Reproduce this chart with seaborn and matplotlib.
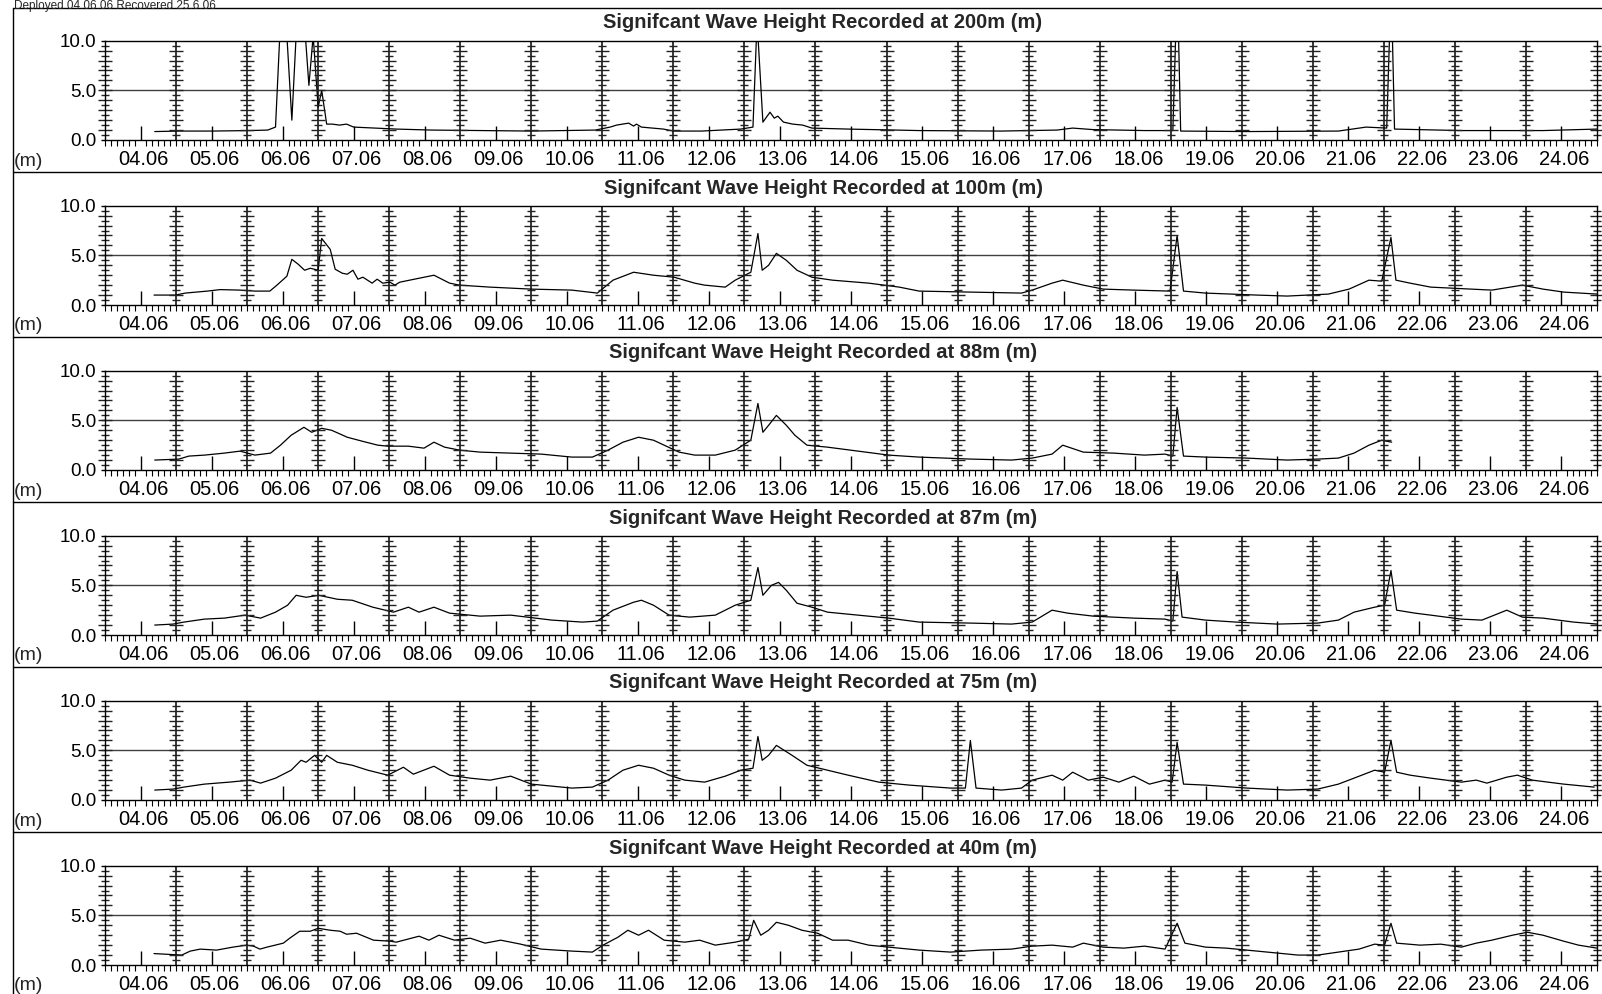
import numpy as np
import pandas as pd
import matplotlib
matplotlib.use("Agg")
import matplotlib.pyplot as plt
from matplotlib.lines import Line2D
from matplotlib.ticker import MultipleLocator, FixedLocator
from matplotlib.transforms import ScaledTranslation
import seaborn as sns

# ---------------- data (time in days since 04.06 00:00, Hs in m) ----------------
depths = ["200m", "100m", "88m", "87m", "75m", "40m"]
day_labels = ["04.06", "05.06", "06.06", "07.06", "08.06", "09.06", "10.06",
              "11.06", "12.06", "13.06", "14.06", "15.06", "16.06", "17.06",
              "18.06", "19.06", "20.06", "21.06", "22.06", "23.06", "24.06"]
y_labels = ["0.0", "5.0", "10.0"]
header = "Deployed 04.06.06 Recovered 25.6.06"

t_200 = [0.70, 1.04, 1.50, 2.04, 2.29, 2.40, 2.46, 2.56, 2.63, 2.69, 2.82, 2.87, 2.93, 3.00,
         3.05, 3.12, 3.20, 3.30, 3.40, 3.50, 3.80, 4.10, 4.60, 5.30, 6.00, 6.90, 7.11, 7.20,
         7.37, 7.44, 7.48, 7.55, 7.86, 8.00, 8.40, 8.95, 9.12, 9.17, 9.19, 9.26, 9.36, 9.42,
         9.47, 9.55, 9.68, 9.82, 9.95, 10.46, 11.46, 12.62, 13.40, 13.62, 13.90, 14.63, 15.03,
         15.07, 15.11, 15.14, 16.07, 17.36, 17.75, 18.04, 18.08, 18.12, 18.15, 19.09, 20.24,
         21.00]
hs_200 = [0.85, 0.9, 0.9, 0.95, 1.0, 1.3, 10.5, 10.5, 2.0, 10.5, 10.5, 5.5, 10.5, 3.3,
          5.0, 1.6, 1.6, 1.5, 1.6, 1.3, 1.2, 1.1, 1.0, 0.95, 0.9, 1.0, 1.3, 1.5,
          1.7, 1.4, 1.6, 1.3, 1.1, 0.9, 0.9, 1.1, 1.3, 10.5, 10.5, 1.8, 2.8, 2.2,
          2.4, 1.8, 1.6, 1.5, 1.2, 1.1, 0.95, 0.9, 1.0, 1.2, 1.05, 0.95, 0.95,
          10.5, 10.5, 0.9, 0.85, 0.9, 1.3, 1.2, 10.5, 10.5, 1.1, 0.95, 0.95,
          1.1]

t_100 = [0.69, 0.99, 1.13, 1.44, 1.62, 1.90, 2.11, 2.32, 2.42, 2.56, 2.63, 2.72, 2.81, 2.89,
         3.00, 3.05, 3.17, 3.24, 3.34, 3.41, 3.49, 3.56, 3.63, 3.76, 3.83, 3.91, 4.01, 4.08,
         4.15, 4.63, 4.85, 4.99, 5.42, 6.00, 6.57, 6.93, 7.15, 7.44, 7.72, 8.01, 8.30, 8.44,
         8.73, 8.87, 9.09, 9.19, 9.25, 9.34, 9.45, 9.59, 9.74, 9.95, 10.24, 10.75, 11.18,
         11.46, 12.18, 12.90, 13.05, 13.33, 13.48, 13.77, 14.05, 14.48, 14.99, 15.09, 15.18,
         15.49, 16.21, 16.64, 17.22, 17.51, 17.79, 17.97, 18.10, 18.17, 18.37, 18.66, 19.23,
         19.52, 19.95, 20.24, 20.53, 21.00]
hs_100 = [1.0, 1.0, 1.2, 1.4, 1.55, 1.5, 1.4, 1.4, 2.0, 2.9, 4.6, 4.1, 3.5, 3.7,
          3.5, 6.7, 5.6, 3.6, 3.2, 3.1, 3.5, 2.6, 2.8, 2.2, 2.6, 2.2, 2.3, 2.0,
          2.3, 3.0, 2.2, 2.0, 1.8, 1.6, 1.5, 1.2, 2.5, 3.3, 3.0, 2.8, 2.2, 2.0,
          1.8, 2.5, 3.3, 7.2, 3.5, 4.0, 5.2, 4.5, 3.5, 2.8, 2.5, 2.2, 1.8,
          1.4, 1.3, 1.2, 1.5, 2.2, 2.5, 2.0, 1.6, 1.5, 1.4, 7.0, 1.4,
          1.2, 1.0, 0.9, 1.1, 1.6, 2.5, 2.4, 6.8, 2.5, 2.2, 1.8, 1.6,
          1.5, 2.0, 1.6, 1.3, 1.1]

t_88 = [0.70, 1.04, 1.18, 1.40, 1.68, 1.90, 2.11, 2.33, 2.47, 2.62, 2.80, 2.91, 3.05, 3.19,
        3.41, 3.62, 3.84, 3.98, 4.27, 4.49, 4.63, 4.78, 4.99, 5.28, 5.71, 6.14, 6.57, 6.86,
        7.08, 7.29, 7.51, 7.72, 7.87, 8.08, 8.30, 8.59, 8.87, 9.09, 9.19, 9.26, 9.34, 9.45,
        9.59, 9.71, 9.88, 10.17, 10.60, 11.03, 11.46, 12.18, 12.76, 13.05, 13.33, 13.48,
        13.77, 14.20, 14.63, 14.92, 15.03, 15.09, 15.18, 15.49, 16.07, 16.64, 17.07, 17.36,
        17.58, 17.79, 17.97, 18.11]
hs_88 = [1.0, 1.1, 1.4, 1.5, 1.7, 1.9, 1.5, 1.7, 2.5, 3.5, 4.3, 3.8, 4.2, 4.0,
         3.3, 2.9, 2.5, 2.4, 2.4, 2.2, 2.8, 2.3, 2.0, 1.8, 1.7, 1.6, 1.3, 1.3,
         2.0, 2.8, 3.3, 3.0, 2.5, 1.8, 1.5, 1.5, 2.0, 3.0, 6.7, 3.8, 4.5, 5.5,
         4.5, 3.5, 2.5, 2.3, 1.9, 1.5, 1.3, 1.1, 1.0, 1.2, 1.6, 2.5,
         1.8, 1.7, 1.5, 1.6, 1.4, 6.3, 1.4, 1.3, 1.2, 1.0, 1.1, 1.2,
         1.7, 2.5, 3.0, 2.8]

t_87 = [0.70, 0.96, 1.11, 1.40, 1.68, 1.97, 2.19, 2.40, 2.57, 2.69, 2.83, 3.01, 3.27, 3.48,
        3.77, 4.06, 4.27, 4.42, 4.63, 4.85, 5.28, 5.71, 6.29, 6.72, 6.93, 7.15, 7.44, 7.55,
        7.72, 7.94, 8.23, 8.59, 8.87, 9.09, 9.19, 9.26, 9.38, 9.48, 9.59, 9.74, 9.95, 10.17,
        10.60, 11.03, 11.46, 12.18, 12.76, 13.05, 13.33, 13.55, 13.91, 14.48, 14.92, 15.03,
        15.09, 15.16, 15.49, 15.92, 16.50, 17.07, 17.36, 17.58, 17.87, 18.01, 18.10, 18.18,
        18.44, 18.66, 19.09, 19.38, 19.73, 19.95, 20.24, 20.67, 21.00]
hs_87 = [1.0, 1.1, 1.3, 1.6, 1.7, 2.0, 1.7, 2.3, 3.0, 4.0, 3.8, 4.0, 3.6, 3.5,
         2.8, 2.3, 2.8, 2.3, 2.8, 2.2, 1.9, 2.0, 1.5, 1.3, 1.4, 2.5, 3.3, 3.5,
         3.0, 2.0, 1.8, 2.0, 3.0, 3.5, 6.8, 4.0, 5.0, 5.3, 4.5, 3.2, 2.8, 2.3,
         2.0, 1.7, 1.3, 1.2, 1.1, 1.3, 2.5, 2.2, 1.9, 1.7, 1.6, 1.4,
         6.4, 1.8, 1.5, 1.3, 1.1, 1.2, 1.5, 2.3, 2.8, 3.0, 6.5, 2.5,
         2.2, 2.0, 1.6, 1.5, 2.5, 1.8, 1.7, 1.3, 1.1]

t_75 = [0.70, 0.96, 1.11, 1.40, 1.75, 2.04, 2.19, 2.40, 2.62, 2.76, 2.83, 2.95, 3.05, 3.12,
        3.27, 3.48, 3.70, 3.98, 4.20, 4.34, 4.63, 4.85, 5.14, 5.42, 5.71, 6.00, 6.57, 6.86,
        7.08, 7.29, 7.51, 7.72, 7.94, 8.16, 8.44, 8.73, 8.95, 9.12, 9.19, 9.25, 9.34, 9.45,
        9.67, 9.88, 10.17, 10.46, 10.89, 11.32, 11.90, 12.11, 12.18, 12.26, 12.62, 12.90,
        13.05, 13.33, 13.48, 13.62, 13.84, 14.05, 14.27, 14.48, 14.70, 14.92, 15.02, 15.09,
        15.18, 15.49, 16.07, 16.64, 17.07, 17.36, 17.58, 17.87, 18.01, 18.10, 18.18, 18.37,
        18.66, 19.09, 19.30, 19.45, 19.73, 19.88, 20.09, 20.53, 20.96]
hs_75 = [1.0, 1.1, 1.3, 1.6, 1.8, 2.0, 1.7, 2.2, 3.0, 4.0, 3.8, 4.5, 3.8, 4.5,
         3.8, 3.5, 3.0, 2.5, 3.3, 2.6, 3.4, 2.5, 2.2, 2.0, 2.4, 1.6, 1.2, 1.3,
         2.0, 3.0, 3.5, 3.2, 2.5, 2.0, 1.8, 2.4, 3.0, 3.2, 6.4, 4.0, 4.5, 5.5,
         4.5, 3.5, 3.0, 2.5, 1.8, 1.5, 1.2, 1.2, 6.0, 1.2, 1.0, 1.2,
         2.0, 2.5, 2.0, 2.8, 2.0, 2.3, 1.8, 2.4, 1.6, 2.0, 1.8, 5.8,
         1.6, 1.5, 1.2, 1.0, 1.1, 1.6, 2.2, 3.0, 2.8, 6.0, 2.8, 2.5,
         2.2, 1.8, 2.0, 1.7, 2.3, 2.5, 2.0, 1.6, 1.3]

t_40 = [0.69, 1.08, 1.20, 1.34, 1.57, 1.80, 1.99, 2.09, 2.18, 2.28, 2.51, 2.60, 2.74, 2.89,
        3.00, 3.17, 3.31, 3.40, 3.54, 3.78, 4.01, 4.10, 4.42, 4.56, 4.70, 4.92, 5.14, 5.35,
        5.57, 5.85, 6.14, 6.57, 6.86, 7.01, 7.22, 7.36, 7.51, 7.65, 7.87, 8.16, 8.37, 8.59,
        8.87, 9.06, 9.13, 9.23, 9.34, 9.45, 9.62, 9.81, 10.03, 10.24, 10.46, 10.75, 11.03,
        11.46, 11.90, 12.33, 12.76, 13.05, 13.33, 13.62, 13.77, 14.05, 14.34, 14.63, 14.92,
        15.09, 15.20, 15.49, 15.78, 16.36, 16.79, 17.07, 17.36, 17.65, 17.87, 18.01, 18.10,
        18.18, 18.51, 18.80, 19.09, 19.30, 19.52, 19.81, 20.02, 20.24, 20.53, 20.74, 21.00]
hs_40 = [1.15, 1.0, 1.4, 1.6, 1.5, 1.8, 2.0, 1.9, 1.6, 1.8, 2.2, 2.7, 3.4, 3.4,
         3.7, 3.5, 3.4, 3.1, 3.2, 2.5, 2.4, 2.3, 2.9, 2.5, 3.0, 2.5, 2.7, 2.2,
         2.5, 2.1, 1.6, 1.4, 1.3, 2.0, 2.8, 3.5, 3.0, 3.5, 2.5, 2.3, 2.5, 2.0,
         2.3, 2.6, 4.5, 3.0, 3.5, 4.3, 4.0, 3.5, 3.2, 2.5, 2.5, 2.0, 1.8,
         1.5, 1.3, 1.5, 1.6, 1.9, 2.0, 1.8, 2.2, 1.8, 1.7, 1.9, 1.6,
         4.2, 2.2, 1.8, 1.7, 1.3, 1.0, 1.0, 1.3, 1.6, 2.1, 2.0, 4.2,
         2.2, 2.0, 2.1, 1.8, 2.2, 2.5, 3.0, 3.3, 3.0, 2.4, 2.0, 1.7]

series_t = [t_200, t_100, t_88, t_87, t_75, t_40]
series_hs = [hs_200, hs_100, hs_88, hs_87, hs_75, hs_40]

# ---------------- style ----------------
sns.set_style("ticks")
plt.rcParams['font.family'] = ['Liberation Sans', 'DejaVu Sans']
plt.rcParams['axes.linewidth'] = 1.0

W, H = 1602, 994
fig = plt.figure(figsize=(W / 100, H / 100), dpi=100)
fig.patch.set_facecolor("white")

ax_left, ax_right = 105, 1597
panel_h = 165
ax_top0, ax_bot0 = 40.7, 140.0

n_days = len(day_labels)
label_shift = ScaledTranslation(3 / 100, 0, fig.dpi_scale_trans)

for k, (depth, t, hs) in enumerate(zip(depths, series_t, series_hs)):
    top = ax_top0 + panel_h * k
    bot = ax_bot0 + panel_h * k
    ax = fig.add_axes([ax_left / W, 1 - bot / H, (ax_right - ax_left) / W, (bot - top) / H])
    df = pd.DataFrame({"day": t, "hs": hs})
    sns.lineplot(data=df, x="day", y="hs", ax=ax, color="black", lw=0.9,
                 estimator=None, sort=False)
    ax.set_xlim(0, n_days)
    ax.set_ylim(0, 10)
    ax.set_xlabel("")
    ax.set_ylabel("")

    # 5 m grid line
    ax.axhline(5, color="#404040", lw=1.0, zorder=1)

    # midnight day lines with ruler ticks
    ruler_long = np.arange(1, 10, 1.0)
    ruler_short = np.arange(0.5, 10, 1.0)
    for d in range(0, n_days + 1):
        if 0 < d < n_days:
            ax.axvline(d, color="black", lw=1.1, zorder=1)
        ax.plot([d] * len(ruler_long), ruler_long, ls="none", marker="_",
                markersize=10, markeredgewidth=1.0, color="#222222", clip_on=False, zorder=2)
        ax.plot([d] * len(ruler_short), ruler_short, ls="none", marker="_",
                markersize=6, markeredgewidth=1.0, color="#222222", clip_on=False, zorder=2)

    # x ticks: labels at noon, minor every 2 hours
    ax.xaxis.set_major_locator(FixedLocator(np.arange(n_days) + 0.5))
    ax.set_xticklabels(day_labels)
    ax.xaxis.set_minor_locator(MultipleLocator(1 / 12))
    ax.tick_params(axis="x", which="major", direction="in", length=10, width=1,
                   labelsize=14.5, pad=7, colors="black")
    ax.tick_params(axis="x", which="minor", direction="out", length=4, width=0.8,
                   colors="black")
    for lab in ax.get_xticklabels():
        lab.set_transform(lab.get_transform() + label_shift)

    ax.set_yticks([0, 5, 10])
    ax.set_yticklabels(y_labels)
    ax.tick_params(axis="y", which="major", direction="out", length=3, width=1,
                   labelsize=13.6, pad=3, colors="black")
    for s in ax.spines.values():
        s.set_color("black")
        s.set_linewidth(1.0)

    # panel title and unit label
    fig.text(823 / W, 1 - (23 + panel_h * k) / H,
             f"Signifcant Wave Height Recorded at {depth} (m)",
             ha="center", va="center", fontsize=14.5, fontweight="bold")
    fig.text(14 / W, 1 - (161 + panel_h * k) / H, "(m)", ha="left", va="center",
             fontsize=14)

# frame lines
frame_y = [8] + [172 + panel_h * k for k in range(5)]
for yy in frame_y:
    fig.add_artist(Line2D([13 / W, 1.0], [1 - yy / H, 1 - yy / H], color="black", lw=1.0))
fig.add_artist(Line2D([13 / W, 13 / W], [0, 1 - 8 / H], color="black", lw=1.0))

fig.text(14 / W, 1 - 0.5 / H, header, ha="left", va="top", fontsize=8.5)

fig.savefig("out.png", dpi=100, facecolor="white")
